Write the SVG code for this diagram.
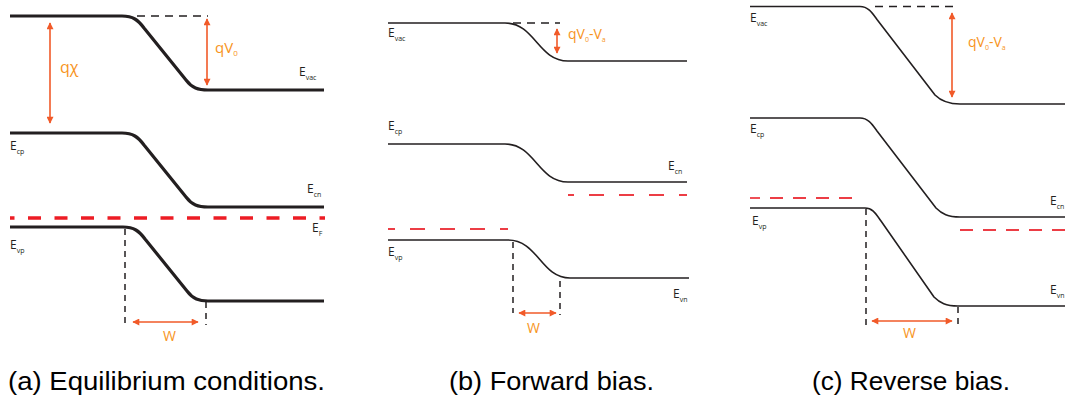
<svg xmlns="http://www.w3.org/2000/svg" width="1065" height="399" viewBox="0 0 1065 399">
<style>
.band{fill:none;stroke:#231f20;stroke-linejoin:round}
.thick{stroke-width:3.2}
.thin{stroke-width:1.6}
.bd{fill:none;stroke:#231f20;stroke-width:1.5;stroke-dasharray:8 6}
.vd{fill:none;stroke:#231f20;stroke-width:1.5;stroke-dasharray:6 5}
.arr{fill:none;stroke:#f15a29;stroke-width:1.6;marker-start:url(#ah);marker-end:url(#ah)}
.lbl{font-family:"Open Sans","Liberation Sans",sans-serif;fill:#231f20}
.olbl{font-family:"Open Sans","Liberation Sans",sans-serif;fill:#f7941d}
.cap{font-family:"Liberation Sans",sans-serif;font-size:25px;fill:#000}
</style>
<defs>
<marker id="ah" viewBox="0 0 10 10" refX="9" refY="5" markerWidth="8" markerHeight="7" markerUnits="userSpaceOnUse" orient="auto-start-reverse">
<path d="M0,0 L10,5 L0,10 Z" fill="#f15a29"/>
</marker>
</defs>
<rect width="1065" height="399" fill="#fff"/>

<g id="connectors">
<!-- panel a -->
<line class="bd" x1="137" y1="16" x2="208" y2="16"/>
<line class="arr" x1="50" y1="23" x2="50" y2="123"/>
<line class="arr" x1="207" y1="19" x2="207" y2="85"/>
<line class="vd" x1="125" y1="229" x2="125" y2="325"/>
<line class="vd" x1="206" y1="302" x2="206" y2="325"/>
<line class="arr" x1="133" y1="322" x2="198" y2="322"/>
<!-- panel b -->
<line class="bd" x1="513" y1="23" x2="560" y2="23"/>
<line class="arr" x1="557" y1="29" x2="557" y2="53"/>
<line class="vd" x1="513" y1="242" x2="513" y2="313"/>
<line class="vd" x1="560" y1="281" x2="560" y2="315"/>
<line class="arr" x1="519" y1="313" x2="556" y2="313"/>
<!-- panel c -->
<line class="bd" x1="875" y1="6.5" x2="958" y2="6.5"/>
<line class="arr" x1="952" y1="13" x2="952" y2="97"/>
<line class="vd" x1="866" y1="209" x2="866" y2="326"/>
<line class="vd" x1="958" y1="307" x2="958" y2="326"/>
<line class="arr" x1="872" y1="321" x2="952" y2="321"/>
</g>

<g id="panel-a">
<path class="band thick" d="M10,16 H122 C133,16 138,20 144,28 L186,80 C192,88 198,90 208,90 H324"/>
<path class="band thick" d="M10,133 H122 C133,133 138,137 144,145 L186,197 C192,205 198,207 208,207 H324"/>
<path class="band thick" d="M10,227 H123 C134,227 139,231 145,239 L187,291 C193,299 199,301 208,301 H324"/>
<line x1="10" y1="218" x2="325" y2="218" stroke="#ed1c24" stroke-width="3.5" stroke-dasharray="13 13.5" stroke-dashoffset="8.5"/>
<text class="olbl" x="60" y="73" font-size="16">qχ</text>
<text class="olbl" x="215" y="53" font-size="15">qV<tspan font-size="8" dy="3">0</tspan></text>
<text class="lbl" x="299" y="76" font-size="12">E<tspan font-size="7" dy="4">vac</tspan></text>
<text class="lbl" x="10" y="150" font-size="12">E<tspan font-size="7" dy="4">cp</tspan></text>
<text class="lbl" x="307" y="193" font-size="12">E<tspan font-size="7" dy="4">cn</tspan></text>
<text class="lbl" x="312" y="232" font-size="12">E<tspan font-size="7" dy="4">F</tspan></text>
<text class="lbl" x="10" y="249" font-size="12">E<tspan font-size="7" dy="4">vp</tspan></text>
<text class="olbl" x="163" y="341" font-size="14">W</text>
</g>

<g id="panel-b">
<path class="band thin" d="M388,23 H505 C535,23 538,61 568,61 H687"/>
<path class="band thin" d="M388,144 H505 C535,144 538,182 568,182 H687"/>
<path class="band thin" d="M388,240 H508 C538,240 541,278 570,278 H689"/>
<line x1="388" y1="229" x2="508" y2="229" stroke="#ec3d45" stroke-width="1.8" stroke-dasharray="15 15" stroke-dashoffset="8"/>
<line x1="568" y1="195" x2="687" y2="195" stroke="#ec3d45" stroke-width="1.8" stroke-dasharray="15 15" stroke-dashoffset="9"/>
<text class="lbl" x="388" y="37" font-size="12">E<tspan font-size="7" dy="4">vac</tspan></text>
<text class="olbl" x="568" y="39" font-size="14">qV<tspan font-size="7" dy="3">0</tspan><tspan dy="-3">-V</tspan><tspan font-size="7" dy="3">a</tspan></text>
<text class="lbl" x="388" y="130" font-size="12">E<tspan font-size="7" dy="4">cp</tspan></text>
<text class="lbl" x="668" y="170" font-size="12">E<tspan font-size="7" dy="4">cn</tspan></text>
<text class="lbl" x="388" y="256" font-size="12">E<tspan font-size="7" dy="4">vp</tspan></text>
<text class="lbl" x="673" y="298" font-size="12">E<tspan font-size="7" dy="4">vn</tspan></text>
<text class="olbl" x="527" y="333" font-size="14">W</text>
</g>

<g id="panel-c">
<path class="band thin" d="M750,6.5 H860 C868,6.5 872,12.5 877,19.5 L935,95 C941,101 948,104 960,104 H1065"/>
<path class="band thin" d="M750,118 H860 C868,118 872,124 877,131 L936,208 C942,214 948,217 960,217 H1065"/>
<path class="band thin" d="M750,208 H865 C873,208 876,214 881,221 L934,297 C940,303 946,306 958,306 H1065"/>
<line x1="750" y1="198" x2="862" y2="198" stroke="#ec3d45" stroke-width="1.8" stroke-dasharray="13 10" stroke-dashoffset="3"/>
<line x1="960" y1="230" x2="1065" y2="230" stroke="#ec3d45" stroke-width="1.8" stroke-dasharray="13 10"/>
<text class="lbl" x="750" y="22" font-size="12">E<tspan font-size="7" dy="4">vac</tspan></text>
<text class="olbl" x="968" y="47" font-size="14">qV<tspan font-size="7" dy="3">0</tspan><tspan dy="-3">-V</tspan><tspan font-size="7" dy="3">a</tspan></text>
<text class="lbl" x="750" y="133" font-size="12">E<tspan font-size="7" dy="4">cp</tspan></text>
<text class="lbl" x="1050" y="205" font-size="12">E<tspan font-size="7" dy="4">cn</tspan></text>
<text class="lbl" x="752" y="225" font-size="12">E<tspan font-size="7" dy="4">vp</tspan></text>
<text class="lbl" x="1050" y="294" font-size="12">E<tspan font-size="7" dy="4">vn</tspan></text>
<text class="olbl" x="903" y="338" font-size="14">W</text>
</g>

<g id="captions">
<text class="cap" x="8" y="390" textLength="317" lengthAdjust="spacingAndGlyphs">(a) Equilibrium conditions.</text>
<text class="cap" x="449" y="390" textLength="205" lengthAdjust="spacingAndGlyphs">(b) Forward bias.</text>
<text class="cap" x="812" y="390" textLength="198" lengthAdjust="spacingAndGlyphs">(c) Reverse bias.</text>
</g>
</svg>
